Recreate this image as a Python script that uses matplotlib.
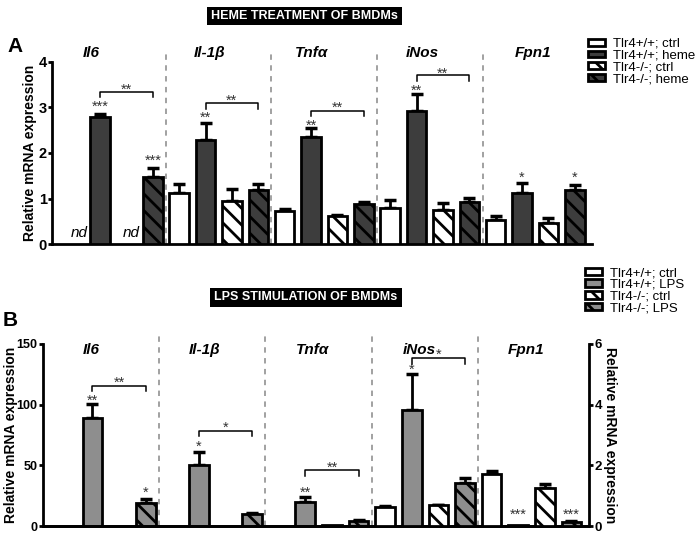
import matplotlib.pyplot as plt
from matplotlib.patches import Patch, Rectangle
import numpy as np

plt.rcParams['font.family'] = ['Liberation Sans', 'DejaVu Sans']
plt.rcParams['hatch.linewidth'] = 2.0

# data
genes = ['Il6', 'Il-1β', 'Tnfα', 'iNos', 'Fpn1']

labels_a = ['Tlr4+/+; ctrl', 'Tlr4+/+; heme', 'Tlr4-/-; ctrl', 'Tlr4-/-; heme']
heme_vals = [[0, 2.80, 0, 1.48],
             [1.13, 2.28, 0.95, 1.18],
             [0.73, 2.36, 0.62, 0.88],
             [0.79, 2.92, 0.74, 0.93],
             [0.53, 1.13, 0.46, 1.19]]
heme_errs = [[0, 0.05, 0, 0.20],
             [0.19, 0.38, 0.25, 0.14],
             [0.04, 0.18, 0.02, 0.05],
             [0.18, 0.37, 0.17, 0.09],
             [0.09, 0.21, 0.11, 0.11]]

labels_b = ['Tlr4+/+; ctrl', 'Tlr4+/+; LPS', 'Tlr4-/-; ctrl', 'Tlr4-/-; LPS']
lps_vals = [[0, 89, 0, 19.3],
            [0, 50, 0, 9.7],
            [0, 19.5, 1.2, 3.8],
            [0.63, 3.83, 0.68, 1.42],
            [1.70, 0.03, 1.26, 0.13]]
lps_errs = [[0, 11.5, 0, 3.3],
            [0, 11, 0, 0.8],
            [0, 4.5, 0, 1.2],
            [0.03, 1.18, 0.02, 0.15],
            [0.12, 0, 0.14, 0.05]]
right_axis_genes = [3, 4]  # iNos, Fpn1 on the right axis in B

# significance marks: (gene, condition, text, y)
stars_a = [(0, 1, '***', 3.10), (0, 3, '***', 1.92), (1, 1, '**', 2.87),
           (2, 1, '**', 2.70), (3, 1, '**', 3.47), (4, 1, '*', 1.56), (4, 3, '*', 1.56)]
brackets_a = [(0, 3.34, 3.22, 3.49, '**'), (1, 3.09, 2.96, 3.25, '**'),
              (2, 2.93, 2.81, 3.09, '**'), (3, 3.71, 3.58, 3.83, '**')]
stars_b = [(0, 1, '**', 107), (0, 3, '*', 31), (1, 1, '*', 68.6), (2, 1, '**', 31),
           (3, 1, '*', 5.28), (4, 1, '***', 0.52), (4, 3, '***', 0.52)]
brackets_b = [(0, 115.6, 111.5, 121.7, '**'), (1, 78.5, 74, 84.5, '*'),
              (2, 46, 41.5, 51.5, '**'), (3, 5.54, 5.35, 5.79, '*')]

face_a = ['white', '#3d3d3d', 'white', '#3d3d3d']
face_b = ['white', '#8e8e8e', 'white', '#8e8e8e']
hatch_list = ['', '', '\\\\', '\\\\']


def xpos(g, c):
    return g * 4 + c


def draw_bars(ax, g, vals, errs, faces):
    for c in range(4):
        x = xpos(g, c)
        if vals[c] > 0:
            ax.bar(x, vals[c], width=0.74, color=faces[c], edgecolor='black',
                   linewidth=2, hatch=hatch_list[c], zorder=3)
        if errs[c] > 0:
            ax.errorbar(x, vals[c], yerr=[[0], [errs[c]]], fmt='none', ecolor='black',
                        elinewidth=2, capsize=4.5, capthick=2.5, zorder=2)


def star(ax, x, y, text, fs=10.5):
    ax.annotate(text, (x, y), xytext=(0, -0.57 * fs), textcoords='offset points',
                ha='center', va='baseline', fontsize=fs, color='#333333')


def bracket(ax, g, ytop, ydrop, ystar, text):
    x1, x2 = xpos(g, 1), xpos(g, 3)
    ax.plot([x1, x1, x2, x2], [ydrop, ytop, ytop, ydrop], color='black', lw=1.1, zorder=4)
    star(ax, (x1 + x2) / 2, ystar, text)


def style_axis(ax, size):
    ax.spines['top'].set_visible(False)
    ax.spines['right'].set_visible(False)
    for s in ['left', 'bottom', 'right']:
        ax.spines[s].set_linewidth(2)
    ax.set_xticks([])
    ax.tick_params(axis='y', width=2, length=3, pad=0.8, labelsize=size)
    for lab in ax.get_yticklabels():
        lab.set_fontweight('bold')


fig = plt.figure(figsize=(7, 5.33), dpi=100)

# ---------------- panel A
axA = fig.add_axes([0.0743, 0.542, 0.771, 0.342])
for g in range(5):
    draw_bars(axA, g, heme_vals[g], heme_errs[g], face_a)
for g, c, t, y in stars_a:
    star(axA, xpos(g, c), y, t)
for g, yt, yd, ys, t in brackets_a:
    bracket(axA, g, yt, yd, ys, t)
for c in [0, 2]:
    axA.text(xpos(0, c) + 0.2, 0.25, 'nd', style='italic', fontsize=11, ha='center', va='center')
axA.set_xlim(-0.82, 19.64)
axA.set_ylim(0, 4)
axA.set_yticks([0, 1, 2, 3, 4])
style_axis(axA, 10.5)
axA.set_ylabel('Relative mRNA expression', fontweight='bold', fontsize=10)
axA.yaxis.set_label_coords(-0.028, 0.5)
for s in [3.5, 7.5, 11.5, 15.5]:
    axA.axvline(s, ymin=0, ymax=1.06, color='#9a9a9a', ls=(0, (3, 3)), lw=1.3, clip_on=False)
for g, xl in zip(range(5), [0.66, 5.17, 9.03, 13.2, 17.4]):
    axA.text(xl, 1.05, genes[g], transform=axA.get_xaxis_transform(), ha='center', va='center',
             fontsize=11, fontweight='bold', style='italic')

# ---------------- panel B
axB = fig.add_axes([0.0614, 0.013, 0.780, 0.342])
axB2 = axB.twinx()
for g in range(5):
    ax = axB2 if g in right_axis_genes else axB
    draw_bars(ax, g, lps_vals[g], lps_errs[g], face_b)
for g, c, t, y in stars_b:
    star(axB2 if g in right_axis_genes else axB, xpos(g, c), y, t)
for g, yt, yd, ys, t in brackets_b:
    bracket(axB2 if g in right_axis_genes else axB, g, yt, yd, ys, t)
axB.set_xlim(-0.86, 19.66)
axB.set_ylim(0, 150)
axB.set_yticks([0, 50, 100, 150])
axB2.set_ylim(0, 6)
axB2.set_yticks([0, 2, 4, 6])
style_axis(axB, 9)
style_axis(axB2, 9.5)
axB2.spines['left'].set_visible(False)
axB2.spines['right'].set_visible(True)
axB2.spines['right'].set_linewidth(2)
axB.set_ylabel('Relative mRNA expression', fontweight='bold', fontsize=10)
axB.yaxis.set_label_coords(-0.046, 0.5)
axB2.set_ylabel('Relative mRNA expression', fontweight='bold', fontsize=10,
                rotation=270, labelpad=11)
for s in [3.5, 7.5, 11.5, 15.5]:
    axB.axvline(s, ymin=0, ymax=1.04, color='#9a9a9a', ls=(0, (3, 3)), lw=1.3, clip_on=False)
for g, xl in zip(range(5), [0.94, 5.2, 9.27, 13.27, 17.3]):
    axB.text(xl, 0.967, genes[g], transform=axB.get_xaxis_transform(), ha='center', va='center',
             fontsize=11, fontweight='bold', style='italic')

# ---------------- titles, panel letters, legends
for (x0, y0, x1, y1), title in [((207, 7, 402, 25), 'HEME TREATMENT OF BMDMs'),
                                ((210, 288, 402, 307), 'LPS STIMULATION OF BMDMs')]:
    fig.patches.append(Rectangle((x0 / 700, 1 - y1 / 533), (x1 - x0) / 700, (y1 - y0) / 533,
                                 transform=fig.transFigure, facecolor='black', edgecolor='none'))
    fig.text((x0 + x1) / 2 / 700, 1 - (y0 + y1) / 2 / 533, title, color='white', fontsize=9,
             fontweight='bold', ha='center', va='center')
fig.text(7 / 700, 1 - 47 / 533, 'A', fontsize=15, fontweight='bold', va='center')
fig.text(3 / 700, 1 - 320 / 533, 'B', fontsize=15, fontweight='bold', va='center')

for faces, labs, anchor, hh in [(face_a, labels_a, (588 / 700, 1 - 38 / 533), 0.4),
                                (face_b, labels_b, (585 / 700, 1 - 267 / 533), 0.5)]:
    handles = [Patch(facecolor=f, edgecolor='black', linewidth=2, hatch=h)
               for f, h in zip(faces, hatch_list)]
    fig.legend(handles, labs, loc='upper left', bbox_to_anchor=anchor, frameon=False,
               fontsize=9.5, handlelength=1.3, handleheight=hh, labelspacing=-0.02,
               handletextpad=0.6, borderpad=0, borderaxespad=0)

fig.savefig('out.png', dpi=100)
